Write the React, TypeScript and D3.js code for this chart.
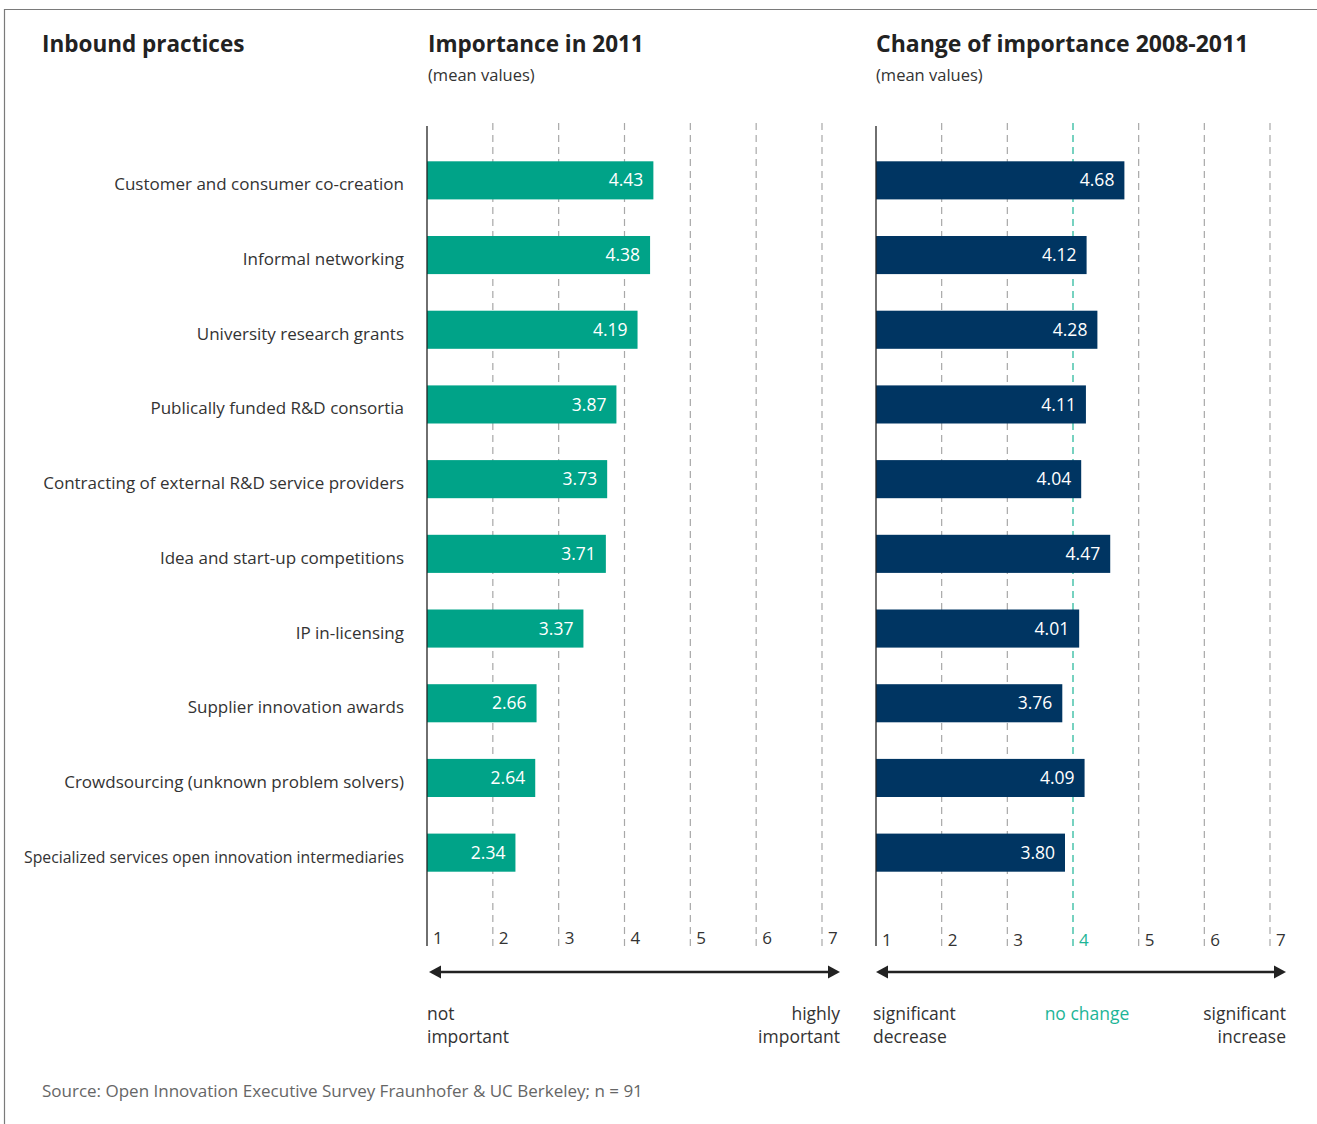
import React from "react";
import * as d3 from "d3";

const categories = [
  "Customer and consumer co-creation",
  "Informal networking",
  "University research grants",
  "Publically funded R&D consortia",
  "Contracting of external R&D service providers",
  "Idea and start-up competitions",
  "IP in-licensing",
  "Supplier innovation awards",
  "Crowdsourcing (unknown problem solvers)",
  "Specialized services open innovation intermediaries",
];
const importance2011 = [4.43, 4.38, 4.19, 3.87, 3.73, 3.71, 3.37, 2.66, 2.64, 2.34];
const change20082011 = [4.68, 4.12, 4.28, 4.11, 4.04, 4.47, 4.01, 3.76, 4.09, 3.8];
const tickValues = [1, 2, 3, 4, 5, 6, 7];

const GREEN = "#00a388";
const NAVY = "#003562";
const TEXT = "#333333";
const FONT = "'Open Sans', 'Noto Sans', sans-serif";

export default function App() {
  const W = 1317;
  const H = 1124;

  const y = d3.scaleBand<string>().domain(categories).range([143, 890]).paddingInner(0.49).paddingOuter(0.245);

  const xL = d3.scaleLinear().domain([1, 7]).range([427, 822]);
  const xLBar = d3.scaleLinear().domain([1, 7]).range([427, 823]);
  const xR = d3.scaleLinear().domain([1, 7]).range([876, 1270]);
  const xRBar = d3.scaleLinear().domain([1, 7]).range([876, 1281]);

  const gridTop = 123;
  const gridBottom = 946;

  const panel = (
    x: d3.ScaleLinear<number, number>,
    xb: d3.ScaleLinear<number, number>,
    values: number[],
    color: string,
    highlight: number | null,
    tickY: number
  ) => (
    <g>
      {tickValues.slice(1).map((t) => (
        <line
          key={"g" + t}
          x1={x(t)}
          x2={x(t)}
          y1={gridTop}
          y2={gridBottom}
          stroke={t === highlight ? "#1db597" : "#a8a8a8"}
          strokeWidth={1.2}
          strokeDasharray="7,5"
        />
      ))}
      {values.map((v, i) => (
        <g key={"b" + i}>
          <rect
            x={x(1)}
            y={y(categories[i])}
            width={xb(v) - x(1)}
            height={y.bandwidth()}
            fill={color}
          />
          <text
            x={xb(v) - 10}
            y={(y(categories[i]) as number) + y.bandwidth() / 2}
            dy="0.35em"
            textAnchor="end"
            fill="#ffffff"
            fontSize={17.5}
            fontFamily={FONT}
          >
            {v.toFixed(2)}
          </text>
        </g>
      ))}
      <line x1={x(1)} x2={x(1)} y1={gridTop + 3} y2={gridBottom} stroke="#222" strokeWidth={1.3} />
      {tickValues.map((t) => (
        <text
          key={"t" + t}
          x={x(t) + 6}
          y={tickY}
          fontSize={17}
          fontFamily={FONT}
          fill={t === highlight ? "#1db597" : TEXT}
        >
          {t}
        </text>
      ))}
    </g>
  );

  const arrow = (x1: number, x2: number, yy: number) => (
    <g>
      <line x1={x1 + 8} x2={x2 - 8} y1={yy} y2={yy} stroke="#222" strokeWidth={2.5} />
      <path d={`M${x1},${yy} L${x1 + 12},${yy - 6.5} L${x1 + 12},${yy + 6.5} Z`} fill="#222" />
      <path d={`M${x2},${yy} L${x2 - 12},${yy - 6.5} L${x2 - 12},${yy + 6.5} Z`} fill="#222" />
    </g>
  );

  return (
    <svg
      width={W}
      height={H}
      style={{ position: "absolute", left: 0, top: 0, background: "#fff" }}
      fontFamily={FONT}
    >
      <path d={`M4.5,${H} L4.5,9.5 L${W},9.5`} fill="none" stroke="#7a7a7a" strokeWidth={1.2} />

      <text x={42} y={52} fontSize={22.5} fontWeight={700} fill="#222">Inbound practices</text>
      <text x={428} y={52} fontSize={22.5} fontWeight={700} fill="#222">Importance in 2011</text>
      <text x={428} y={81} fontSize={16.5} fill={TEXT}>(mean values)</text>
      <text x={876} y={52} fontSize={23} fontWeight={700} fill="#222">Change of importance 2008-2011</text>
      <text x={876} y={81} fontSize={16.5} fill={TEXT}>(mean values)</text>

      {categories.map((c, i) => (
        <text
          key={c}
          x={404}
          y={(y(c) as number) + y.bandwidth() / 2 + 4}
          dy="0.35em"
          textAnchor="end"
          fontSize={17}
          fill={TEXT}
          {...(i === categories.length - 1 ? { textLength: 380, lengthAdjust: "spacingAndGlyphs" } : {})}
        >
          {c}
        </text>
      ))}

      {panel(xL, xLBar, importance2011, GREEN, null, 944)}
      {panel(xR, xRBar, change20082011, NAVY, 4, 946)}

      {arrow(429, 840, 972)}
      {arrow(876, 1286, 972)}

      <text x={427} y={1020} fontSize={17.5} fill={TEXT}>not</text>
      <text x={427} y={1043} fontSize={17.5} fill={TEXT}>important</text>
      <text x={840} y={1020} fontSize={17.5} fill={TEXT} textAnchor="end">highly</text>
      <text x={840} y={1043} fontSize={17.5} fill={TEXT} textAnchor="end">important</text>

      <text x={873} y={1020} fontSize={17.5} fill={TEXT}>significant</text>
      <text x={873} y={1043} fontSize={17.5} fill={TEXT}>decrease</text>
      <text x={1087} y={1020} fontSize={17.5} fill="#1db597" textAnchor="middle">no change</text>
      <text x={1286} y={1020} fontSize={17.5} fill={TEXT} textAnchor="end">significant</text>
      <text x={1286} y={1043} fontSize={17.5} fill={TEXT} textAnchor="end">increase</text>

      <text x={42} y={1097} fontSize={17} fill="#666">
        Source: Open Innovation Executive Survey Fraunhofer &amp; UC Berkeley; n = 91
      </text>
    </svg>
  );
}
